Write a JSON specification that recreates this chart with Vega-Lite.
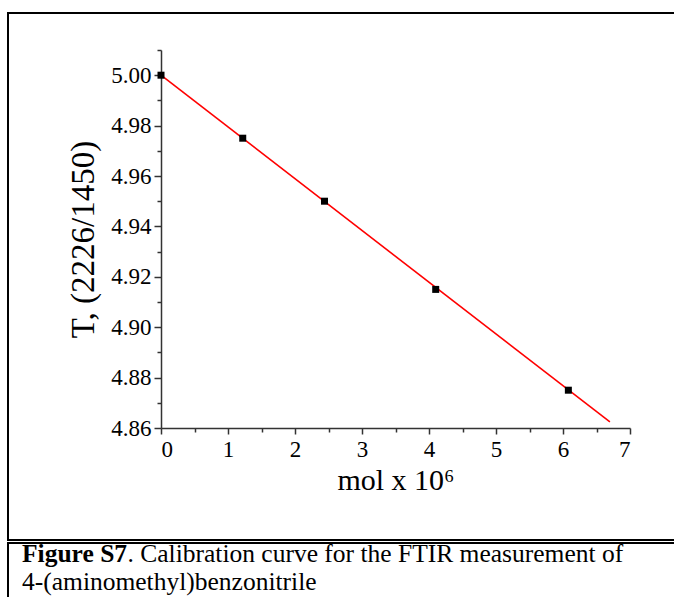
{
  "$schema": "https://vega.github.io/schema/vega-lite/v6.json",
  "background": "white",
  "padding": {"left": 7, "top": 12, "right": 0, "bottom": 0},
  "spacing": 0,
  "config": {
    "view": {"stroke": "black", "strokeWidth": 2},
    "font": "Liberation Serif",
    "axis": {
      "grid": false,
      "domainColor": "#333333",
      "domainWidth": 1.5,
      "tickColor": "#333333",
      "tickWidth": 1.5,
      "labelFont": "Liberation Serif",
      "titleFont": "Liberation Serif",
      "labelColor": "black",
      "titleColor": "black",
      "labelFontSize": 23,
      "titleFontSize": 30,
      "titleFontWeight": "normal"
    }
  },
  "datasets": {
    "points": [
      {"mol": 0.0, "T": 5.000},
      {"mol": 1.22, "T": 4.975},
      {"mol": 2.44, "T": 4.950},
      {"mol": 4.10, "T": 4.915},
      {"mol": 6.08, "T": 4.875}
    ],
    "fit": [
      {"mol": 0.0, "T": 5.000},
      {"mol": 6.70, "T": 4.8624}
    ],
    "caption": [
      {"part": "bold", "line": 1, "txt": "Figure S7"},
      {"part": "normal", "line": 1, "txt": ". Calibration curve for the FTIR measurement of"},
      {"part": "normal", "line": 2, "txt": "4-(aminomethyl)benzonitrile"}
    ]
  },
  "vconcat": [
    {
      "width": 672,
      "height": 527,
      "layer": [
        {
          "data": {"name": "fit"},
          "mark": {"type": "line", "color": "#ff0000", "strokeWidth": 1.6},
          "encoding": {
            "x": {
              "field": "mol", "type": "quantitative",
              "scale": {"domain": [0, 7], "range": [153, 622], "nice": false, "zero": false},
              "axis": {"orient": "bottom", "offset": -112, "values": [0.5, 1.5, 2.5, 3.5, 4.5, 5.5, 6.5], "labels": false, "domain": false, "tickSize": 4, "title": null}
            },
            "y": {
              "field": "T", "type": "quantitative",
              "scale": {"domain": [4.86, 5.01], "range": [415, 37], "nice": false, "zero": false},
              "axis": {"orient": "left", "offset": -153, "values": [4.87, 4.89, 4.91, 4.93, 4.95, 4.97, 4.99, 5.01], "labels": false, "domain": false, "tickSize": 4, "title": null}
            }
          }
        },
        {
          "data": {"name": "points"},
          "mark": {"type": "square", "size": 49, "color": "black", "filled": true, "opacity": 1},
          "encoding": {
            "x": {
              "field": "mol", "type": "quantitative",
              "scale": {"domain": [0, 7], "range": [153, 622], "nice": false, "zero": false},
              "axis": {"orient": "bottom", "offset": -112, "values": [0, 1, 2, 3, 4, 5, 6, 7], "format": "d", "tickSize": 6, "labelPadding": 4, "labelFont": "Liberation Serif", "labelFontSize": 23, "labelColor": "black", "title": "mol x 10⁶", "titleFont": "Liberation Serif", "titleFontSize": 30, "titleFontWeight": "normal", "titlePadding": 4}
            },
            "y": {
              "field": "T", "type": "quantitative",
              "scale": {"domain": [4.86, 5.01], "range": [415, 37], "nice": false, "zero": false},
              "axis": {"orient": "left", "offset": -153, "values": [4.86, 4.88, 4.90, 4.92, 4.94, 4.96, 4.98, 5.00], "format": ".2f", "tickSize": 7, "labelPadding": 3, "labelFont": "Liberation Serif", "labelFontSize": 23, "labelColor": "black", "title": "T, (2226/1450)", "titleFont": "Liberation Serif", "titleFontSize": 33, "titleFontWeight": "normal", "titlePadding": 10}
            }
          }
        }
      ],
      "resolve": {"axis": {"x": "independent", "y": "independent"}}
    },
    {
      "width": 672,
      "height": 59,
      "data": {"name": "caption"},
      "layer": [
        {
          "transform": [{"filter": "datum.part == 'bold'"}],
          "mark": {"type": "text", "align": "left", "baseline": "alphabetic", "fontSize": 25.5, "fontWeight": "bold", "font": "Liberation Serif", "color": "black"},
          "encoding": {"text": {"field": "txt"}, "x": {"value": 14}, "y": {"value": 19}}
        },
        {
          "transform": [{"filter": "datum.part == 'normal' && datum.line == 1"}],
          "mark": {"type": "text", "align": "left", "baseline": "alphabetic", "fontSize": 25.5, "font": "Liberation Serif", "color": "black"},
          "encoding": {"text": {"field": "txt"}, "x": {"value": 119.5}, "y": {"value": 19}}
        },
        {
          "transform": [{"filter": "datum.line == 2"}],
          "mark": {"type": "text", "align": "left", "baseline": "alphabetic", "fontSize": 25.5, "font": "Liberation Serif", "color": "black"},
          "encoding": {"text": {"field": "txt"}, "x": {"value": 14}, "y": {"value": 47}}
        }
      ]
    }
  ]
}
